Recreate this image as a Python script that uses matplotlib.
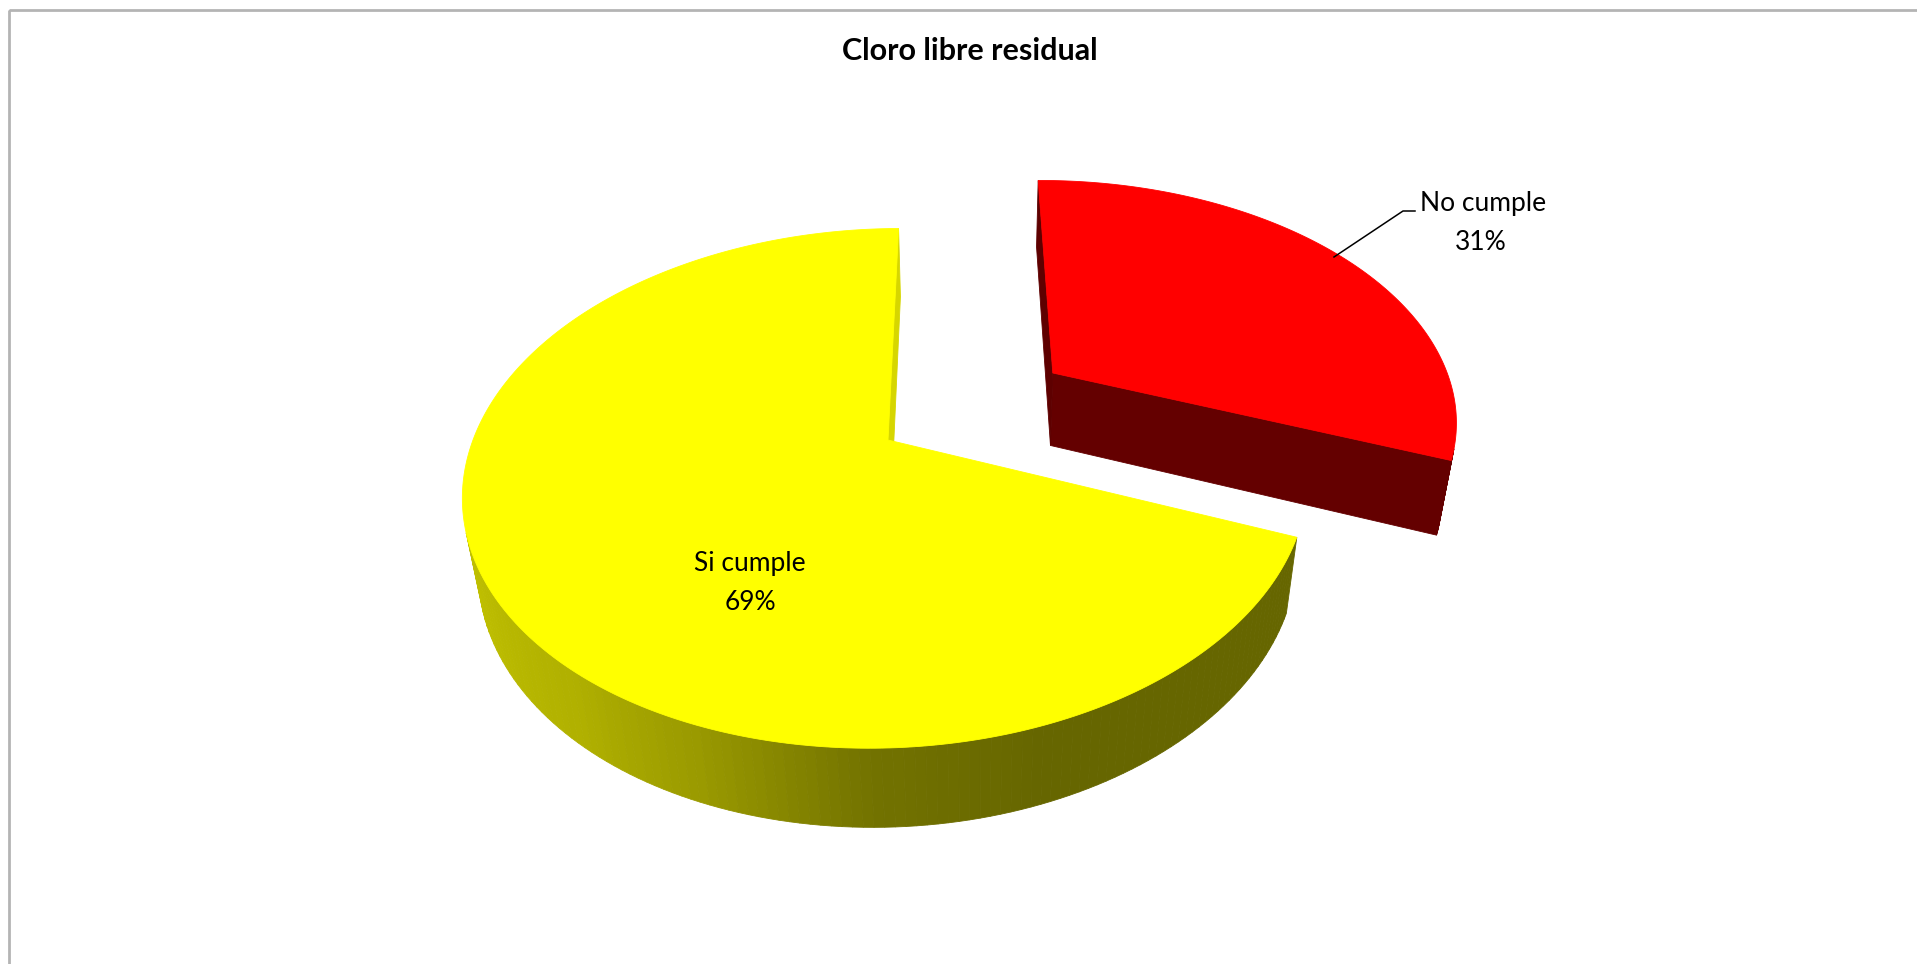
import numpy as np
import matplotlib
matplotlib.use("Agg")
import matplotlib.pyplot as plt
from matplotlib.patches import Polygon, Rectangle

# Data
title = "Cloro libre residual"
categories = ["No cumple", "Si cumple"]
percentages = [31, 69]
top_colors = ["#FF0000", "#FFFF00"]
explode = [0.495, 0.0]

W, H = 1917, 964
fig = plt.figure(figsize=(W / 100, H / 100), dpi=100)
ax = fig.add_axes([0, 0, 1, 1])
ax.set_xlim(0, W)
ax.set_ylim(H, 0)
ax.axis("off")

# Chart-area frame (only top and left edges are inside the canvas)
ax.add_patch(Rectangle((9, 10), W + 50, H + 50, fill=False,
                       edgecolor="#b4b4b4", linewidth=2.0))

# Perspective camera for the 3D pie
tilt = np.arcsin(0.595)
dist = 4.32
cam_x = 0.2
scale = 415.0
vscale = 1.016
origin = (888.0, 440.0)
thick = 0.2256
first_angle = 90.4
cam = np.array([cam_x, -dist * np.cos(tilt), dist * np.sin(tilt)])


def project(x, y, z):
    yv = y * np.sin(tilt) + z * np.cos(tilt)
    zd = y * np.cos(tilt) - z * np.sin(tilt)
    s = dist / (dist + zd)
    sx = origin[0] + scale * ((x - cam_x) * s + cam_x)
    sy = origin[1] - scale * vscale * yv * s
    return sx, sy


def facing(normal, point):
    return np.dot(normal, cam - np.asarray(point)) > 0


def shade_rgb(hex_color, f):
    r, g, b = matplotlib.colors.to_rgb(hex_color)
    return (r * f, g * f, b * f)


def yellow_side_shade(theta_deg):
    t = theta_deg % 360
    return np.interp(t, [0, 180, 232, 250, 270, 290, 360],
                     [0.40, 0.80, 0.69, 0.60, 0.45, 0.40, 0.40])


def add_poly(pts, color, z):
    ax.add_patch(Polygon(pts, closed=True, facecolor=color, edgecolor=color,
                         linewidth=0.6, antialiased=True, zorder=z))


# Slice angles: first slice starts near 12 o'clock, going clockwise
cum = np.cumsum([0] + percentages)
slices = []
for i, p in enumerate(percentages):
    th2 = first_angle - cum[i] * 3.6
    th1 = first_angle - cum[i + 1] * 3.6
    mid = np.radians((th1 + th2) / 2)
    off = (explode[i] * np.cos(mid), explode[i] * np.sin(mid))
    slices.append((i, th1, th2, off))

# draw farther slices first
slices.sort(key=lambda s: -s[3][1])

for order, (i, th1, th2, (ox, oy)) in enumerate(slices):
    base_z = 2 + order * 10
    col = top_colors[i]
    is_red = col == "#FF0000"

    def rim(theta, z):
        t = np.radians(theta)
        return (ox + np.cos(t), oy + np.sin(t), z)

    c_top = (ox, oy, 0.0)
    c_bot = (ox, oy, -thick)

    # straight cut faces
    for th, sign in ((th1, 1), (th2, -1)):
        t = np.radians(th)
        n = np.array([sign * np.sin(t), -sign * np.cos(t), 0.0])
        mid_pt = (ox + 0.5 * np.cos(t), oy + 0.5 * np.sin(t), -thick / 2)
        if facing(n, mid_pt):
            pts = [project(*c_top), project(*rim(th, 0)),
                   project(*rim(th, -thick)), project(*c_bot)]
            fcol = "#5e0000" if is_red else "#d6d600"
            if is_red and sign == 1:
                fcol = "#640000"
            add_poly(pts, fcol, base_z)

    # curved outer side
    edges = np.linspace(th1, th2, 200)
    for a, b in zip(edges[:-1], edges[1:]):
        m = np.radians((a + b) / 2)
        n = np.array([np.cos(m), np.sin(m), 0.0])
        p = (ox + np.cos(m), oy + np.sin(m), -thick / 2)
        if not facing(n, p):
            continue
        pts = [project(*rim(a, 0)), project(*rim(b, 0)),
               project(*rim(b, -thick)), project(*rim(a, -thick))]
        if is_red:
            fcol = "#640000"
        else:
            fcol = shade_rgb(col, yellow_side_shade(np.degrees(m)))
        add_poly(pts, fcol, base_z + 1)

    # top face
    arc = np.linspace(th1, th2, 300)
    pts = [project(*c_top)] + [project(*rim(a, 0)) for a in arc]
    add_poly(pts, col, base_z + 2)

# Data labels
font = ["Lato", "DejaVu Sans"]
ax.text(1420, 204, f"{categories[0]}", ha="left", va="center",
        fontsize=19, family=font, color="#000000", zorder=50)
ax.text(1481, 243, f"{percentages[0]}%", ha="center", va="center",
        fontsize=19, family=font, color="#000000", zorder=50)
ax.plot([1334, 1403, 1415], [257, 211, 211], color="#000000",
        linewidth=1.1, zorder=50)

ax.text(750, 564, f"{categories[1]}", ha="center", va="center",
        fontsize=19, family=font, color="#000000", zorder=50)
ax.text(750, 602, f"{percentages[1]}%", ha="center", va="center",
        fontsize=19, family=font, color="#000000", zorder=50)

# Title
ax.text(970, 51, title, ha="center", va="center", fontsize=22,
        fontweight="bold", family=font, color="#000000", zorder=50)

fig.savefig("out.png", dpi=100, facecolor="white")
